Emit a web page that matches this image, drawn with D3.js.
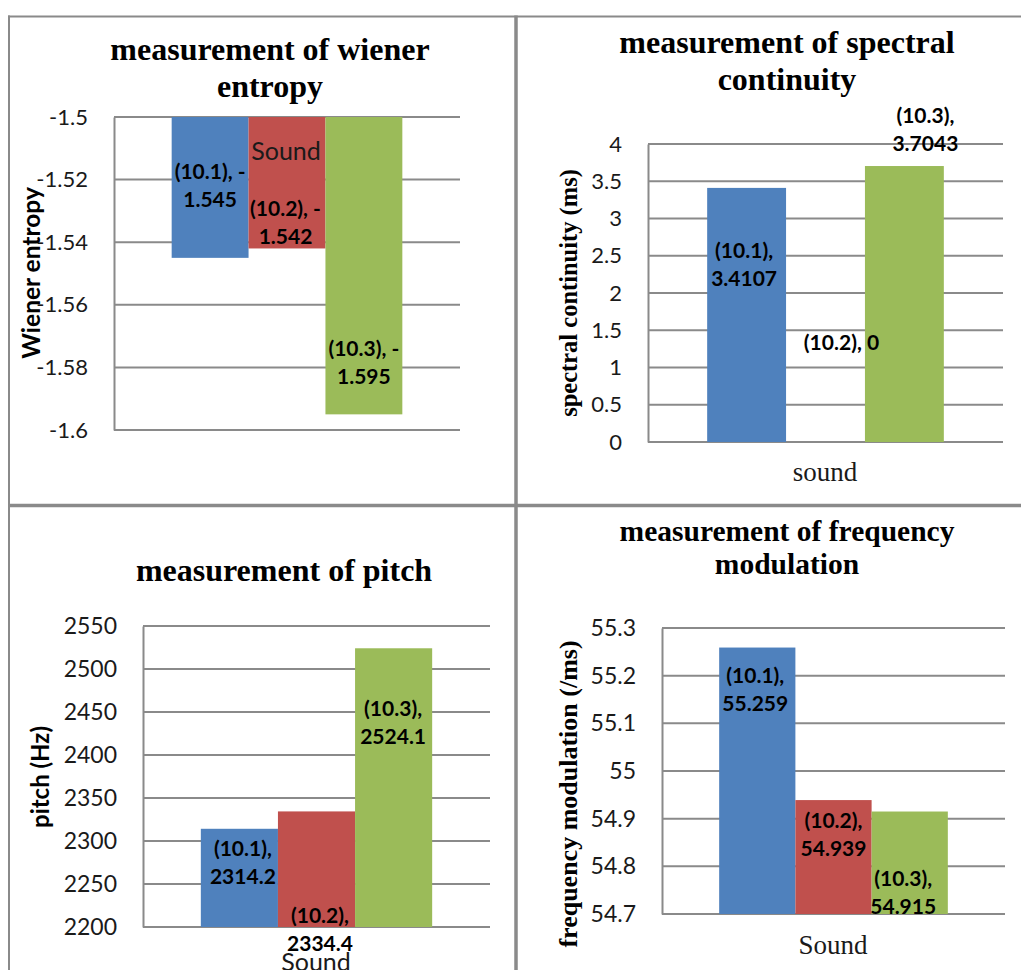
<!DOCTYPE html>
<html>
<head>
<meta charset="utf-8">
<script src="https://cdn.jsdelivr.net/npm/d3@7"></script>
<style>
  html, body { margin: 0; padding: 0; background: #fff; }
  svg { display: block; }
</style>
</head>
<body>
<svg id="chart" width="1021" height="970"></svg>
<script>
// Series shared by the four measurements
const seriesNames = ["(10.1)", "(10.2)", "(10.3)"];
const seriesColors = ["#4F81BD", "#C0504D", "#9BBB59"];

// Wiener entropy
const wienerValues = [-1.545, -1.542, -1.595];
const wienerTicks = [-1.5, -1.52, -1.54, -1.56, -1.58, -1.6];

// Spectral continuity (ms)
const spectralValues = [3.4107, 0, 3.7043];
const spectralTicks = [0, 0.5, 1, 1.5, 2, 2.5, 3, 3.5, 4];

// Pitch (Hz)
const pitchValues = [2314.2, 2334.4, 2524.1];
const pitchTicks = [2200, 2250, 2300, 2350, 2400, 2450, 2500, 2550];

// Frequency modulation (/ms)
const fmValues = [55.259, 54.939, 54.915];
const fmTicks = [54.7, 54.8, 54.9, 55, 55.1, 55.2, 55.3];

const svg = d3.select("#chart");
const GRID = "#8a8a8a";
const SANS = "Lato, 'Open Sans', sans-serif";
const SERIF = "'Liberation Serif', 'Times New Roman', serif";
const plain = d => String(d); // keeps an ASCII hyphen for negatives

// Panel frame lines
const frame = svg.append("g").attr("stroke", GRID).attr("fill", "none");
frame.append("line").attr("x1", 8).attr("x2", 1021).attr("y1", 16.5).attr("y2", 16.5).attr("stroke-width", 2);
frame.append("line").attr("x1", 9).attr("x2", 9).attr("y1", 15.5).attr("y2", 970).attr("stroke-width", 2);
frame.append("line").attr("x1", 516).attr("x2", 516).attr("y1", 15.5).attr("y2", 970).attr("stroke-width", 3.5);
frame.append("line").attr("x1", 8).attr("x2", 1021).attr("y1", 505.5).attr("y2", 505.5).attr("stroke-width", 3.5);

// Chart configurations (layout only; values come from the arrays above)
const charts = [
  {
    values: wienerValues, ticks: wienerTicks,
    domain: [-1.6, -1.5], base: -1.5,
    plot: { x0: 114, x1: 460, yTop: 117, yBot: 430 },
    tickSize: 22,
    title: ["measurement of wiener", "entropy"], titleX: 270, titleY: [60, 97], titleSize: 32,
    yTitle: "Wiener entropy", yTitleFont: SANS, yTitleSize: 24.5, yTitlePos: [40, 273],
    cat: "Sound", catFont: SANS, catSize: 25, catPos: [286, 160],
    labelText: (i, v) => [seriesNames[i] + ", -", String(Math.abs(v))],
    labelOff: [[0, -87], [-1.5, -40.6], [0, -66.6]]
  },
  {
    values: spectralValues, ticks: spectralTicks,
    domain: [0, 4], base: 0,
    plot: { x0: 648, x1: 1003, yTop: 144, yBot: 442 },
    tickSize: 22,
    title: ["measurement of spectral", "continuity"], titleX: 787, titleY: [53, 90], titleSize: 32,
    yTitle: "spectral continuity (ms)", yTitleFont: SERIF, yTitleSize: 24.5, yTitlePos: [577, 293],
    cat: "sound", catFont: SERIF, catSize: 27, catPos: [825, 481],
    labelText: (i, v) => v === 0 ? [seriesNames[i] + ", 0"] : [seriesNames[i] + ",", String(v)],
    labelOff: [[-2.5, 61.7], [16, -101], [21, -52]]
  },
  {
    values: pitchValues, ticks: pitchTicks,
    domain: [2200, 2550], base: 2200,
    plot: { x0: 143, x1: 490, yTop: 626, yBot: 927 },
    tickSize: 23,
    title: ["measurement of pitch"], titleX: 284, titleY: [581], titleSize: 32,
    yTitle: "pitch (Hz)", yTitleFont: SANS, yTitleSize: 24, yTitlePos: [49, 777],
    cat: "Sound", catFont: SANS, catSize: 25, catPos: [316, 971],
    labelText: (i, v) => [seriesNames[i] + ",", String(v)],
    labelOff: [[3.5, 18.5], [3.5, 103.5], [-0.5, 59.5]]
  },
  {
    values: fmValues, ticks: fmTicks,
    domain: [54.7, 55.3], base: 54.7,
    plot: { x0: 662, x1: 1005, yTop: 628, yBot: 914 },
    tickSize: 23,
    title: ["measurement of frequency", "modulation"], titleX: 787, titleY: [541, 574], titleSize: 29.5,
    yTitle: "frequency modulation (/ms)", yTitleFont: SERIF, yTitleSize: 26, yTitlePos: [577, 794],
    cat: "Sound", catFont: SERIF, catSize: 27, catPos: [833, 954],
    labelText: (i, v) => [seriesNames[i] + ",", String(v)],
    labelOff: [[-2, 26.7], [0, 19], [-6.5, 66]]
  }
];

charts.forEach(c => {
  const g = svg.append("g");
  const p = c.plot;
  const y = d3.scaleLinear().domain(c.domain).range([p.yBot, p.yTop]);
  // one category; bars take 2/3 of the plot width (gap width 150%)
  const xCat = d3.scaleBand().domain([c.cat]).range([p.x0, p.x1]).paddingInner(0).paddingOuter(0.25);
  const xSer = d3.scaleBand().domain(seriesNames).range([xCat(c.cat), xCat(c.cat) + xCat.bandwidth()]).padding(0);

  // gridlines
  g.append("g").selectAll("line").data(c.ticks).join("line")
    .attr("x1", p.x0).attr("x2", p.x1)
    .attr("y1", d => y(d)).attr("y2", d => y(d))
    .attr("stroke", GRID).attr("stroke-width", 2);

  // bars
  g.append("g").selectAll("rect").data(c.values).join("rect")
    .attr("x", (d, i) => xSer(seriesNames[i]))
    .attr("width", xSer.bandwidth())
    .attr("y", d => Math.min(y(d), y(c.base)))
    .attr("height", d => Math.abs(y(d) - y(c.base)))
    .attr("fill", (d, i) => seriesColors[i]);

  // value axis
  const axis = d3.axisLeft(y).tickValues(c.ticks).tickFormat(plain).tickSize(0).tickPadding(26);
  const ax = g.append("g").attr("transform", `translate(${p.x0},0)`).call(axis);
  ax.select(".domain").attr("stroke", GRID).attr("stroke-width", 2);
  ax.selectAll("text").attr("font-family", SANS).attr("font-size", c.tickSize).attr("fill", "#1a1a1a");

  // title
  const t = g.append("text").attr("text-anchor", "middle").attr("font-family", SERIF)
    .attr("font-weight", "bold").attr("font-size", c.titleSize).attr("fill", "#000");
  c.title.forEach((line, k) => t.append("tspan").attr("x", c.titleX).attr("y", c.titleY[k]).text(line));

  // category label
  g.append("text").attr("x", c.catPos[0]).attr("y", c.catPos[1]).attr("text-anchor", "middle")
    .attr("font-family", c.catFont).attr("font-size", c.catSize).attr("fill", "#1a1a1a").text(c.cat);

  // value axis title
  g.append("text").attr("transform", `translate(${c.yTitlePos[0]},${c.yTitlePos[1]}) rotate(-90)`)
    .attr("text-anchor", "middle").attr("font-family", c.yTitleFont).attr("font-weight", "bold")
    .attr("font-size", c.yTitleSize).attr("fill", "#000").text(c.yTitle);

  // data labels
  c.values.forEach((v, i) => {
    const cx = xSer(seriesNames[i]) + xSer.bandwidth() / 2 + c.labelOff[i][0];
    const cy = y(v) + c.labelOff[i][1];
    const lines = c.labelText(i, v);
    const txt = g.append("text").attr("text-anchor", "middle").attr("font-family", SANS)
      .attr("font-weight", "bold").attr("font-size", 21).attr("fill", "#000");
    lines.forEach((line, k) => txt.append("tspan").attr("x", cx).attr("y", cy + k * 28)
      .attr("dominant-baseline", "central").text(line));
  });
});
</script>
</body>
</html>
